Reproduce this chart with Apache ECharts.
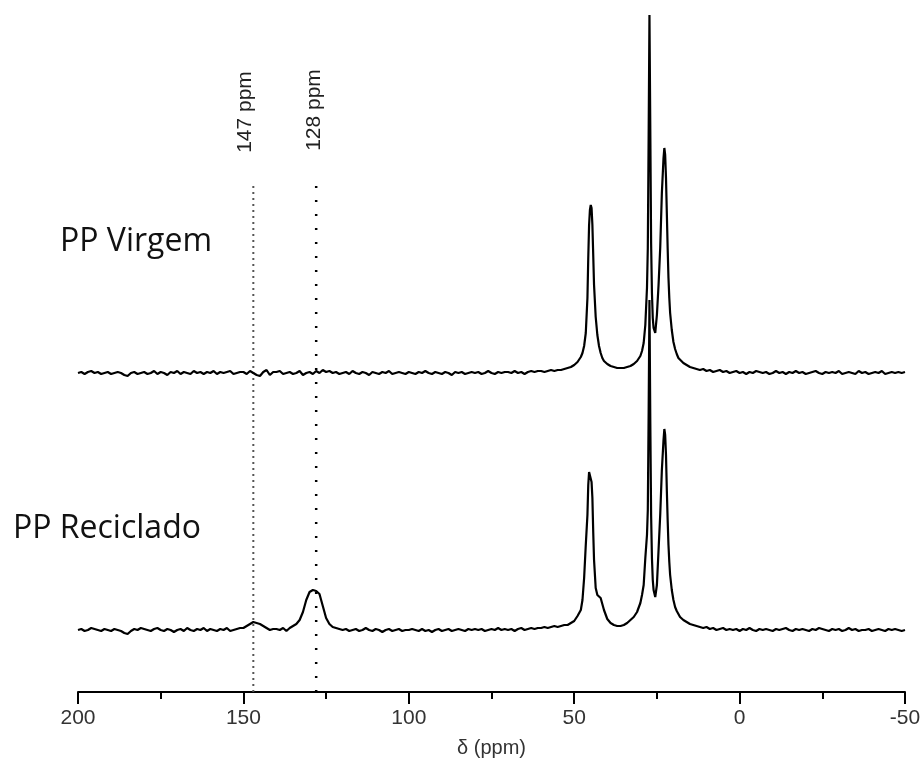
<!DOCTYPE html>
<html>
<head>
<meta charset="utf-8">
<script src="https://cdn.jsdelivr.net/npm/echarts/dist/echarts.min.js"></script>
<style>html,body{margin:0;padding:0;background:#fff}#c{width:924px;height:778px}</style>
</head>
<body>
<div id="c"></div>
<script>
// Chemical shift sample positions (ppm)
const ppm = [
200,199,198,197,196,195,194,193,192,191,
190,189,188,187,186,185,184,183,182,181,
180,179,178,177,176,175,174,173,172,171,
170,169,168,167,166,165,164,163,162,161,
160,159,158,157,156,155,154,153,152,151,
150,149,148,147,146,145,144,143,142,141,
140,139,138,137,136,135,134,133,132,131,
130,129,128,127,126,125,124,123,122,121,
120,119,118,117,116,115,114,113,112,111,
110,109,108,107,106,105,104,103,102,101,
100,99,98,97,96,95,94,93,92,91,
90,89,88,87,86,85,84,83,82,81,
80,79,78,77,76,75,74,73,72,71,
70,69,68,67,66,65,64,63,62,61,
60,59,58,57,56,55,54,53,52,
51,50,49,48,47.5,47,46.5,46,45.75,45.5,
45.25,45,44.75,44.5,44.25,44,43.5,43,42.5,42,
41.5,41,40,39,38,37,36,35,34,33,
32,31,30,29.5,29,28.5,28,27.75,27.5,27.25,
27,26.75,26.5,26.25,26,25.5,25,24.5,24,23.5,
23,22.75,22.5,22.25,22,21.75,21.5,21.25,21,20.5,
20,19.5,19,18.5,18,17,16,15,14,13,
12,11,10,9,8,7,6,5,4,3,
2,1,0,-1,-2,-3,-4,-5,-6,-7,
-8,-9,-10,-11,-12,-13,-14,-15,-16,-17,
-18,-19,-20,-21,-22,-23,-24,-25,-26,-27,
-28,-29,-30,-31,-32,-33,-34,-35,-36,-37,
-38,-39,-40,-41,-42,-43,-44,-45,-46,-47,
-48,-49,-50
];

// Intensities relative to each trace's own baseline
const virgem = [
0,1,-1,1,2,0,1,-1,0,1,
-1,0,1,0,-2,-3,0,1,-1,0,
1,-1,0,2,-1,1,0,-2,1,0,
2,-1,1,0,-1,2,0,1,-1,1,
0,2,-1,1,0,1,2,-1,0,1,
1,-1,2,0,-2,-3,1,3,-2,1,
1,2,-1,0,1,-1,0,2,-2,0,
1,-1,2,0,3,1,2,0,1,-1,
0,1,-1,2,0,-1,1,0,-2,1,
0,-1,1,0,2,-1,0,1,0,-1,
1,0,-1,1,0,2,0,-1,1,0,
-1,1,0,-2,1,0,1,-1,0,1,
0,1,-1,0,2,0,-1,1,0,1,
1,0,2,0,1,-1,1,2,1,2,
2,1,2,3,2,3,3,4,5,
6,8,11,16,20,27,40,75,115,148,
163,168,165,148,118,88,56,38,27,20,
15,12,9,7,6,5,5,5,6,7,
9,12,17,22,30,48,85,125,235,358,
245,130,80,55,45,40,58,88,125,180,
215,225,218,195,160,125,95,75,60,43,
31,24,19,15,13,10,8,6,5,4,
3,4,2,3,1,2,3,1,2,0,
1,2,0,1,-1,1,0,2,1,0,
1,-1,0,2,0,1,-1,1,0,2,
0,1,-1,0,1,2,0,-1,1,0,
1,0,2,-1,0,1,0,-1,2,0,
1,-1,0,1,0,2,-1,0,1,0,
1,0,1
];

const reciclado = [
0,1,-1,0,2,1,0,-1,1,0,
-1,1,0,-1,-3,-4,-1,1,0,2,
1,0,-1,1,2,0,-1,1,0,-2,
0,1,-1,2,0,-1,1,0,2,-1,
1,0,-1,1,0,2,-1,0,1,2,
2,4,6,8,7,6,4,2,0,1,
1,0,2,-1,2,4,6,10,18,30,
38,40,39,36,24,12,6,3,2,1,
0,1,-1,0,1,-1,0,2,0,-1,
1,0,-2,0,1,-1,0,1,-1,0,
0,1,0,-1,1,-1,0,-2,0,1,
-1,0,1,-1,0,1,0,-1,1,0,
1,0,1,-1,0,1,0,2,0,1,
0,1,-1,1,2,0,1,2,1,2,
2,3,2,3,4,3,4,5,5,
7,9,14,20,30,52,85,115,145,158,
160,158,148,132,98,70,42,35,34,32,
26,20,11,7,5,4,4,5,7,10,
13,18,27,35,45,72,95,120,215,330,
210,115,72,50,40,33,45,80,115,160,
190,201,195,175,140,110,85,68,55,40,
30,23,19,16,13,10,8,6,5,4,
3,2,3,1,2,0,1,2,0,1,
0,1,-1,1,0,2,0,-1,1,0,
1,0,-1,1,0,1,2,0,-1,1,
0,1,0,-1,1,0,2,1,0,-1,
1,0,1,-1,0,2,0,1,-1,0,
0,1,-1,0,1,0,-1,1,0,1,
0,-1,0
];

const sampleNames = ['PP Virgem', 'PP Reciclado'];
const markerPpm = [147, 128];
const markerLabels = ['147 ppm', '128 ppm'];
const axisTitle = 'δ (ppm)';

if (ppm.length !== virgem.length || ppm.length !== reciclado.length) {
  console.error('length mismatch', ppm.length, virgem.length, reciclado.length);
}

// layout / display constants
const VIRGEM_OFFSET = 319;
const RECICLADO_OFFSET = 62;
const MARKER_TOP = 510;

const chart = echarts.init(document.getElementById('c'), null, {renderer: 'canvas'});

const traceStyle = {color: '#000', width: 2.2};
const option = {
  animation: false,
  backgroundColor: '#fff',
  grid: {left: 78, right: 19, top: 10, bottom: 86, containLabel: false, outerBoundsMode: 'none'},
  xAxis: {
    type: 'value', inverse: true, min: -50, max: 200, interval: 50,
    name: axisTitle, nameLocation: 'middle', nameGap: 46,
    nameTextStyle: {fontFamily: '"Liberation Sans", Arial, sans-serif', fontSize: 20, color: '#333'},
    axisLine: {show: true, onZero: false, lineStyle: {color: '#000', width: 2}},
    axisTick: {show: true, inside: false, length: 12, lineStyle: {color: '#000', width: 2}},
    minorTick: {show: true, splitNumber: 2, length: 7, lineStyle: {color: '#000', width: 2}},
    splitLine: {show: false}, minorSplitLine: {show: false},
    axisLabel: {show: true, margin: 16, showMinLabel: true, showMaxLabel: true,
      fontFamily: '"Liberation Sans", Arial, sans-serif', fontSize: 21, color: '#333'}
  },
  yAxis: {type: 'value', min: 0, max: 682, show: false, splitLine: {show: false}},
  series: [
    {
      type: 'line', name: markerLabels[0], showSymbol: false, silent: true, z: 1,
      data: [[markerPpm[0], 0], [markerPpm[0], MARKER_TOP]],
      lineStyle: {color: '#555', width: 2, type: [2, 4]}
    },
    {
      type: 'line', name: markerLabels[1], showSymbol: false, silent: true, z: 1,
      data: [[markerPpm[1], 0], [markerPpm[1], MARKER_TOP]],
      lineStyle: {color: '#000', width: 2.5, type: [2, 12]}
    },
    {
      type: 'line', name: sampleNames[0], showSymbol: false, z: 3,
      data: ppm.map((p, i) => [p, virgem[i] + VIRGEM_OFFSET]),
      lineStyle: traceStyle
    },
    {
      type: 'line', name: sampleNames[1], showSymbol: false, z: 3,
      data: ppm.map((p, i) => [p, reciclado[i] + RECICLADO_OFFSET]),
      lineStyle: traceStyle
    }
  ]
};
chart.setOption(option);

const labelDx = [-8, -2];
const labelDy = [-70, -72];
const graphics = [];
markerPpm.forEach((m, i) => {
  const p = chart.convertToPixel({gridIndex: 0}, [m, MARKER_TOP]);
  graphics.push({
    type: 'text', x: p[0] + labelDx[i], y: p[1] + labelDy[i], rotation: Math.PI / 2,
    style: {text: markerLabels[i], font: '21px "Liberation Sans", Arial, sans-serif', fill: '#222',
      align: 'center', verticalAlign: 'middle', textAlign: 'center', textVerticalAlign: 'middle'}
  });
});
const namePos = [[60, 242], [13, 529]];
sampleNames.forEach((n, i) => {
  graphics.push({
    type: 'text', x: namePos[i][0], y: namePos[i][1],
    style: {text: n, font: '32px "Open Sans", sans-serif', fill: '#111',
      align: 'left', verticalAlign: 'middle', textAlign: 'left', textVerticalAlign: 'middle'}
  });
});
chart.setOption({graphic: graphics});
</script>
</body>
</html>
